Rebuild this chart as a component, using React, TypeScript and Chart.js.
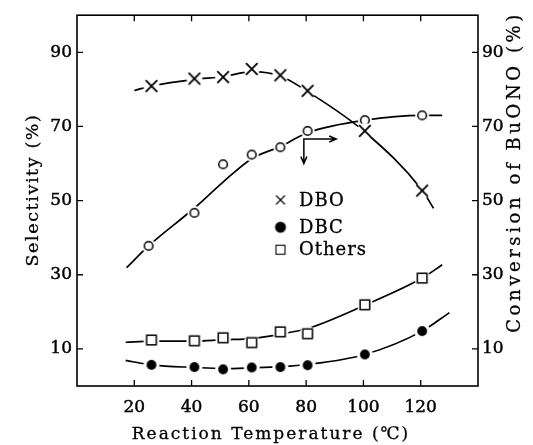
import React, { useEffect, useRef } from 'react';
import { Chart, registerables } from 'chart.js';

Chart.register(...registerables);

// ---- measured points (reaction temperature, °C) ----
const temperatures = [26, 41, 51, 61, 71, 80.5, 100.5, 120.5];
const conversionTemps = [25, 41, 51, 61, 71, 80.5, 100.5, 120.5];
const dboSelectivity = [80.9, 82.9, 83.3, 85.5, 83.8, 79.6, 68.8, 52.7];
const dbcSelectivity = [5.7, 5.1, 4.5, 5.0, 5.1, 5.6, 8.5, 14.8];
const othersSelectivity = [12.4, 12.2, 13.0, 11.7, 14.6, 14.1, 21.9, 29.1];
const buonoConversion = [37.8, 46.7, 59.8, 62.4, 64.4, 68.8, 71.7, 73.0];

// ---- fitted curves ----
const dboCurveT = [20, 26, 41, 51, 61, 71, 80.5, 100.5, 120.5, 124.5];
const dboCurve = [79.7, 80.9, 82.7, 83.4, 84.8, 83.6, 79.4, 68.5, 52.8, 47.9];
const convCurveT = [17.3, 25, 41, 51, 61, 71, 80.5, 100.5, 120.5, 127.5];
const convCurve = [31.9, 37.8, 48, 55, 61.3, 64.6, 68.3, 71.7, 73, 73];
const othersCurveT = [17, 26, 41, 51, 61, 71, 80.5, 100.5, 120.5, 127.5];
const othersCurve = [11.8, 12.1, 12.1, 12.5, 12.8, 14.0, 15.5, 21.8, 29.1, 32.7];
const dbcCurveT = [17, 26, 41, 51, 61, 71, 80.5, 100.5, 120.5, 130];
const dbcCurve = [6.9, 5.7, 5.0, 4.7, 4.9, 5.2, 5.8, 8.5, 14.8, 19.8];

// ---- axes ----
const xTicks = [20, 40, 60, 80, 100, 120];
const yTicks = [10, 30, 50, 70, 90];
const legendLabels = ['DBO', 'DBC', 'Others'];
const xTitle = 'Reaction Temperature (℃)';
const yTitle = 'Selectivity (%)';
const y2Title = 'Conversion of BuONO (%)';

// arrow annotation (data coords): corner, down-end, right-end
const arrowCorner = [79.2, 66.6];
const arrowDownTo = 60;
const arrowRightTo = 90.5;

const FONT = "'DejaVu Serif', serif";
const TICK_STROKE = 0.45;
const TEXT_STROKE = 0.3;

function pts(xs: number[], ys: number[]) {
  return xs.map((x, i) => ({ x, y: ys[i] }));
}

function makeMarker(kind: string, halo: boolean, legend = false): HTMLCanvasElement {
  const size = 20;
  const c = document.createElement('canvas');
  c.width = size;
  c.height = size;
  const g = c.getContext('2d')!;
  const m = size / 2;
  if (halo) {
    g.fillStyle = '#fff';
    g.beginPath();
    g.arc(m, m, kind === 'circle' ? 7 : 8, 0, Math.PI * 2);
    g.fill();
  }
  g.strokeStyle = '#000';
  g.fillStyle = '#000';
  if (kind === 'cross') {
    const r = legend ? 4.5 : 5.8;
    g.lineWidth = legend ? 1.1 : 1.8;
    g.beginPath();
    g.moveTo(m - r, m - r);
    g.lineTo(m + r, m + r);
    g.moveTo(m + r, m - r);
    g.lineTo(m - r, m + r);
    g.stroke();
  } else if (kind === 'dot') {
    g.beginPath();
    g.arc(m, m, legend ? 5.5 : 4.9, 0, Math.PI * 2);
    g.fill();
  } else if (kind === 'circle') {
    g.lineWidth = 1.5;
    g.fillStyle = '#fff';
    g.beginPath();
    g.arc(m, m, 4.3, 0, Math.PI * 2);
    g.fill();
    g.stroke();
  } else if (kind === 'square') {
    const h = legend ? 4.5 : 4.8;
    g.lineWidth = legend ? 1.1 : 1.5;
    g.fillStyle = '#fff';
    g.fillRect(m - h, m - h, 2 * h, 2 * h);
    g.strokeRect(m - h, m - h, 2 * h, 2 * h);
  }
  return c;
}

function boldText(ctx: CanvasRenderingContext2D, t: string, x: number, y: number) {
  ctx.fillText(t, x, y);
  ctx.lineWidth = TEXT_STROKE;
  ctx.strokeText(t, x, y);
}

export default function App() {
  const ref = useRef<HTMLCanvasElement>(null);

  useEffect(() => {
    const canvas = ref.current!;
    const mCross = makeMarker('cross', true);
    const mDot = makeMarker('dot', true);
    const mCircle = makeMarker('circle', true);
    const mSquare = makeMarker('square', true);
    const lCross = makeMarker('cross', false, true);
    const lDot = makeMarker('dot', false, true);
    const lSquare = makeMarker('square', false, true);

    const decor = {
      id: 'decor',
      afterDraw(chart: any) {
        const ctx = chart.ctx as CanvasRenderingContext2D;
        const a = chart.chartArea;
        const xs = chart.scales.x;
        const ys = chart.scales.y;
        ctx.save();
        ctx.strokeStyle = '#000';
        ctx.fillStyle = '#000';
        // frame
        ctx.lineWidth = 1.6;
        ctx.strokeRect(a.left, a.top, a.right - a.left, a.bottom - a.top);
        // inward ticks
        ctx.lineWidth = 1.3;
        ctx.beginPath();
        for (const v of xTicks) {
          const px = xs.getPixelForValue(v);
          ctx.moveTo(px, a.bottom);
          ctx.lineTo(px, a.bottom - 6);
          ctx.moveTo(px, a.top);
          ctx.lineTo(px, a.top + 6);
        }
        for (const v of yTicks) {
          const py = ys.getPixelForValue(v);
          ctx.moveTo(a.left, py);
          ctx.lineTo(a.left + 6, py);
          ctx.moveTo(a.right, py);
          ctx.lineTo(a.right - 6, py);
        }
        ctx.stroke();

        // arrow
        const cx = xs.getPixelForValue(arrowCorner[0]);
        const cy = ys.getPixelForValue(arrowCorner[1]);
        const dy = ys.getPixelForValue(arrowDownTo);
        const rx = xs.getPixelForValue(arrowRightTo);
        ctx.lineWidth = 1.5;
        ctx.beginPath();
        ctx.moveTo(cx, dy);
        ctx.lineTo(cx, cy);
        ctx.lineTo(rx, cy);
        ctx.moveTo(cx - 3, dy - 7);
        ctx.lineTo(cx, dy);
        ctx.lineTo(cx + 3, dy - 7);
        ctx.moveTo(rx - 7, cy - 3);
        ctx.lineTo(rx, cy);
        ctx.lineTo(rx - 7, cy + 3);
        ctx.stroke();

        // legend
        const lx = a.left + 203.5;
        const rows = [a.top + 184.7, a.top + 212, a.top + 234.5];
        const icons = [lCross, lDot, lSquare];
        ctx.font = `18px ${FONT}`;
        ctx.textAlign = 'left';
        ctx.textBaseline = 'middle';
        (ctx as any).letterSpacing = '1px';
        rows.forEach((ry, i) => {
          const ic = icons[i];
          ctx.drawImage(ic, lx - ic.width / 2, ry - ic.height / 2);
          boldText(ctx, legendLabels[i], lx + 18.5, ry + 1);
        });

        // titles
        ctx.textAlign = 'center';
        ctx.font = `17px ${FONT}`;
        (ctx as any).letterSpacing = '2px';
        boldText(ctx, xTitle, 271, 435);

        ctx.save();
        ctx.translate(33, 190);
        ctx.rotate(-Math.PI / 2);
        (ctx as any).letterSpacing = '1.6px';
        ctx.font = `17.5px ${FONT}`;
        boldText(ctx, yTitle, 0, 0);
        ctx.restore();

        ctx.save();
        ctx.translate(515, 172);
        ctx.rotate(-Math.PI / 2);
        ctx.font = `18px ${FONT}`;
        (ctx as any).letterSpacing = '3.6px';
        boldText(ctx, y2Title, 0, 0);
        ctx.restore();

        (ctx as any).letterSpacing = '0px';
        ctx.restore();
      },
    };

    const curve = (data: any[], axis = 'y') => ({
      type: 'line',
      data,
      yAxisID: axis,
      borderColor: '#000',
      borderWidth: 1.7,
      pointRadius: 0,
      cubicInterpolationMode: 'monotone',
      fill: false,
      order: 2,
    });
    const marks = (data: any[], style: any, axis = 'y') => ({
      type: 'line',
      data,
      yAxisID: axis,
      showLine: false,
      pointStyle: style,
      pointRadius: 5,
      borderColor: '#000',
      backgroundColor: '#000',
      order: 0,
    });

    const tickFont = { family: FONT, size: 17 };
    const tickCommon = { font: tickFont, color: '#000', textStrokeColor: '#000', textStrokeWidth: TICK_STROKE, autoSkip: false };

    const chart = new Chart(canvas, {
      type: 'line',
      data: {
        datasets: [
          marks(pts(temperatures, dboSelectivity), mCross),
          marks(pts(temperatures, dbcSelectivity), mDot),
          marks(pts(temperatures, othersSelectivity), mSquare),
          marks(pts(conversionTemps, buonoConversion), mCircle, 'y2'),
          curve(pts(dboCurveT, dboCurve)),
          curve(pts(dbcCurveT, dbcCurve)),
          curve(pts(othersCurveT, othersCurve)),
          curve(pts(convCurveT, convCurve), 'y2'),
        ] as any,
      },
      options: {
        responsive: false,
        animation: false,
        devicePixelRatio: 1,
        layout: { padding: { top: 8, left: 0, right: 0, bottom: 0 } },
        plugins: { legend: { display: false }, tooltip: { enabled: false } },
        scales: {
          x: {
            type: 'linear',
            min: 0,
            max: 140,
            afterBuildTicks: (s: any) => {
              s.ticks = xTicks.map((v) => ({ value: v }));
            },
            afterFit: (s: any) => {
              s.height = 59;
            },
            grid: { display: false, drawTicks: false },
            border: { display: false },
            ticks: { ...tickCommon, padding: 11, maxRotation: 0 },
          },
          y: {
            type: 'linear',
            position: 'left',
            min: 0,
            max: 100,
            afterBuildTicks: (s: any) => {
              s.ticks = yTicks.map((v) => ({ value: v }));
            },
            afterFit: (s: any) => {
              s.width = 77;
            },
            grid: { display: false, drawTicks: false },
            border: { display: false },
            ticks: { ...tickCommon, padding: 5 },
          },
          y2: {
            type: 'linear',
            position: 'right',
            min: 0,
            max: 100,
            afterBuildTicks: (s: any) => {
              s.ticks = yTicks.map((v) => ({ value: v }));
            },
            afterFit: (s: any) => {
              s.width = 55;
            },
            grid: { display: false, drawTicks: false },
            border: { display: false },
            ticks: { ...tickCommon, padding: 4 },
          },
        },
      } as any,
      plugins: [decor],
    });
    return () => chart.destroy();
  }, []);

  return (
    <canvas
      ref={ref}
      width={533}
      height={445}
      style={{ position: 'fixed', left: 0, top: 0, width: 533, height: 445, display: 'block', background: '#fff' }}
    />
  );
}
